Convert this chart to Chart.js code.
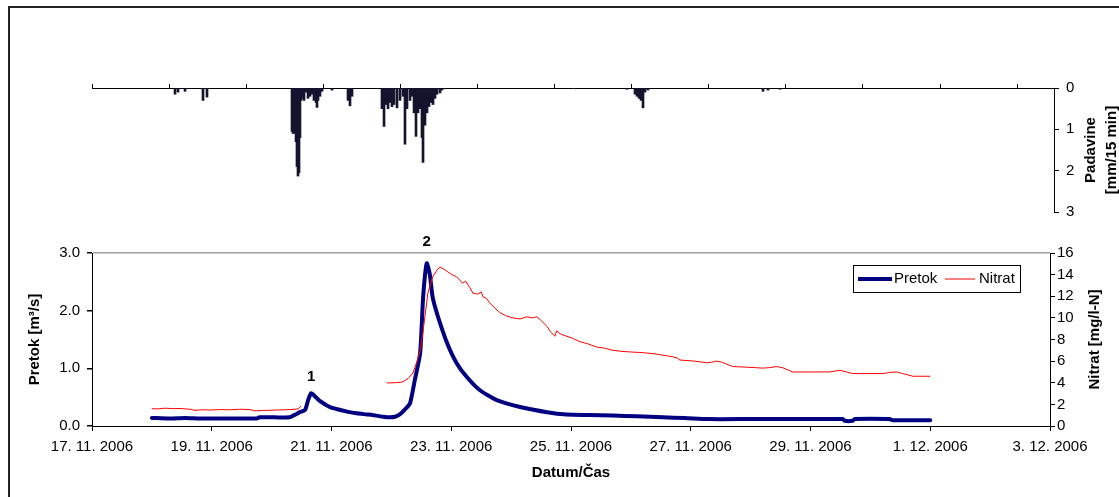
<!DOCTYPE html>
<html><head><meta charset="utf-8">
<script src="https://cdn.jsdelivr.net/npm/chart.js@4.4.0/dist/chart.umd.min.js"></script>
<style>
html,body{margin:0;padding:0;background:#fff;}
#wrap{position:relative;width:1119px;height:497px;overflow:hidden;background:#fff;}
#frame{position:absolute;left:8px;top:6px;width:1200px;height:600px;border-top:2px solid #222;border-left:2px solid #222;}
canvas{position:absolute;left:0;top:0;}
</style></head><body>
<div id="wrap"><div id="frame"></div>
<canvas id="rain" width="1119" height="497"></canvas>
<canvas id="main" width="1119" height="497"></canvas>
</div>
<script>
// ---- data (time in days since 17. 11. 2006 00:00) ----
const dateLabels = ['17. 11. 2006','19. 11. 2006','21. 11. 2006','23. 11. 2006','25. 11. 2006','27. 11. 2006','29. 11. 2006','1. 12. 2006','3. 12. 2006'];

const flowT = [1.00,1.30,1.55,1.80,2.05,2.30,2.55,2.75,2.80,3.05,3.30,3.40,3.47,3.56,3.61,3.66,3.71,3.81,3.97,4.10,4.26,4.42,4.59,4.75,4.86,4.98,5.06,5.14,5.22,5.31,5.39,5.48,5.53,5.59,5.64,5.69,5.78,5.93,6.09,6.26,6.48,6.76,7.15,7.60,7.93,8.30,8.70,9.10,9.53,9.90,10.28,11.00,11.80,12.54,12.57,12.70,12.74,13.32,13.37,14.00];
const flowQ = [0.14,0.13,0.14,0.13,0.13,0.13,0.13,0.13,0.15,0.15,0.15,0.20,0.24,0.28,0.45,0.57,0.53,0.43,0.33,0.29,0.25,0.22,0.20,0.18,0.16,0.15,0.16,0.20,0.28,0.39,0.79,1.26,2.23,2.82,2.64,2.23,1.89,1.44,1.09,0.85,0.62,0.45,0.33,0.24,0.20,0.19,0.18,0.17,0.15,0.14,0.12,0.12,0.12,0.12,0.09,0.09,0.12,0.12,0.10,0.10];

const nitT = [1.00,1.10,1.22,1.35,1.47,1.64,1.72,1.85,1.97,2.15,2.30,2.47,2.64,2.72,2.85,2.97,3.10,3.22,3.39,3.45,3.49,3.50,
  4.92,5.06,5.19,5.28,5.36,5.43,5.48,5.53,5.56,5.61,5.69,5.76,5.81,5.88,5.93,6.01,6.09,6.14,6.19,6.24,6.31,6.36,6.44,6.50,6.53,6.59,6.64,6.73,6.81,6.91,7.03,7.15,7.26,7.35,7.43,7.51,7.60,7.66,7.73,7.76,7.83,7.93,8.03,8.15,8.28,8.43,8.56,8.70,8.85,8.98,9.15,9.37,9.48,9.60,9.70,9.77,9.82,10.07,10.27,10.35,10.43,10.52,10.70,10.90,11.07,11.20,11.32,11.43,11.53,11.70,11.99,12.32,12.49,12.60,12.70,12.99,13.21,13.32,13.44,13.54,13.71,14.00];
const nitN = [1.60,1.58,1.65,1.60,1.62,1.55,1.45,1.50,1.48,1.52,1.50,1.55,1.52,1.40,1.44,1.45,1.48,1.50,1.55,1.60,1.85,null,
  3.98,4.00,4.07,4.40,4.90,6.00,7.00,8.80,10.10,12.30,13.80,14.40,14.70,14.50,14.30,14.00,13.80,13.50,13.20,13.40,12.80,12.30,12.20,12.40,11.95,11.80,11.40,10.90,10.50,10.20,10.00,9.90,10.10,10.00,10.10,9.70,9.20,8.70,8.30,8.80,8.50,8.30,8.10,7.80,7.60,7.30,7.20,7.00,6.90,6.85,6.80,6.70,6.60,6.50,6.40,6.30,6.10,6.00,5.85,5.90,6.00,5.90,5.50,5.45,5.40,5.35,5.40,5.50,5.40,5.00,5.00,5.00,5.15,5.00,4.85,4.85,4.85,4.95,5.00,4.85,4.60,4.60];

const rainT = [1.386,1.436,1.553,1.853,1.920,
  3.339,3.356,3.372,3.389,3.406,3.422,3.439,3.456,3.472,3.489,3.506,3.539,3.573,3.606,3.639,3.673,3.706,3.740,3.756,3.773,3.806,3.840,4.007,
  4.274,4.307,4.341,
  4.841,4.875,4.908,4.942,4.975,5.008,5.042,5.092,5.142,5.192,5.225,5.259,5.309,5.342,5.376,5.409,5.442,5.476,5.509,5.526,5.559,5.593,5.626,5.659,5.693,5.726,5.760,5.810,5.843,
  8.932,9.065,9.098,9.132,9.165,9.199,9.232,9.282,
  11.202,11.285,11.486];
const rainP = [0.15,0.10,0.08,0.30,0.22,
  1.05,1.10,1.08,1.10,1.30,1.90,2.13,2.05,1.20,0.30,0.25,0.30,0.10,0.25,0.20,0.15,0.30,0.35,0.47,0.30,0.20,0.08,0.05,
  0.30,0.43,0.20,
  0.50,0.93,0.40,0.50,0.35,0.45,0.40,0.48,0.30,0.20,1.36,0.50,0.30,0.20,0.60,1.17,0.60,0.50,1.20,1.80,0.90,0.60,0.45,0.35,0.40,0.25,0.15,0.12,0.05,
  0.03,0.15,0.20,0.25,0.30,0.48,0.10,0.05,
  0.08,0.05,0.03];

const peakLabelText = ['1','2'];
const peakLabelT = [3.66,5.59];
const peakLabelQ = [0.85,3.20];

// ---- rendering ----
const FONT = '"Liberation Sans", Arial, sans-serif';
Chart.defaults.font.family = FONT;
Chart.defaults.font.size = 15;
Chart.defaults.color = '#000';
Chart.defaults.animation = false;

const rainAxisDays = 16.06;
const rainTickStep = 1.287;

const rainTitlePlugin = {
  id: 'rainTitle',
  afterDraw(chart) {
    const ctx = chart.ctx, y = chart.scales.y;
    const cy = (y.top + y.bottom) / 2;
    ctx.save();
    ctx.font = 'bold 15px ' + FONT;
    ctx.fillStyle = '#000';
    ctx.textAlign = 'center';
    ctx.textBaseline = 'middle';
    ctx.translate(y.left + 37, cy);
    ctx.rotate(-Math.PI / 2);
    ctx.fillText('Padavine', 0, 0);
    ctx.fillText('[mm/15 min]', 0, 21);
    ctx.restore();
  }
};

new Chart(document.getElementById('rain'), {
  type: 'bar',
  data: {
    datasets: [{
      data: rainT.map((t, i) => ({x: t, y: rainP[i]})),
      backgroundColor: '#14142e',
      borderWidth: 0,
      barThickness: 2
    }]
  },
  options: {
    responsive: false,
    layout: {padding: {left: 92, right: 0, top: 0, bottom: 285}},
    plugins: {legend: {display: false}, tooltip: {enabled: false}},
    scales: {
      x: {
        type: 'linear', position: 'top', min: 0, max: rainAxisDays, offset: false,
        afterBuildTicks(s) { const t = []; for (let k = 0; k * rainTickStep <= rainAxisDays + 1e-6; k++) t.push({value: k * rainTickStep}); s.ticks = t; },
        afterFit(s) { s.height = 88; },
        ticks: {display: false},
        grid: {drawOnChartArea: false, drawTicks: true, tickLength: 4, color: '#000', offset: false},
        border: {display: true, color: '#000', width: 1}
      },
      y: {
        position: 'right', reverse: true, min: 0, max: 3,
        afterFit(s) { s.width = 65; },
        ticks: {stepSize: 1, padding: 7},
        grid: {drawOnChartArea: false, tickLength: 5, color: '#000'},
        border: {display: true, color: '#000', width: 1}
      }
    }
  },
  plugins: [rainTitlePlugin]
});

const mainTextPlugin = {
  id: 'mainText',
  afterDraw(chart) {
    const ctx = chart.ctx, s = chart.scales, ca = chart.chartArea;
    const cy = (ca.top + ca.bottom) / 2;
    ctx.save();
    ctx.fillStyle = '#000';
    ctx.font = 'bold 15px ' + FONT;
    ctx.textAlign = 'center';
    ctx.textBaseline = 'middle';
    // left title
    ctx.save(); ctx.translate(35, cy); ctx.rotate(-Math.PI / 2); ctx.fillText('Pretok [m³/s]', 0, 0); ctx.restore();
    // right title
    ctx.save(); ctx.translate(s.yN.left + 45, cy); ctx.rotate(-Math.PI / 2); ctx.fillText('Nitrat [mg/l-N]', 0, 0); ctx.restore();
    // x title
    ctx.fillText('Datum/Čas', (ca.left + ca.right) / 2, 473);
    // peak labels
    peakLabelText.forEach((t, i) => {
      ctx.fillText(t, s.x.getPixelForValue(peakLabelT[i]), s.yQ.getPixelForValue(peakLabelQ[i]));
    });
    // legend
    const bw = 167, bh = 27, bx = ca.right - 30 - bw, by = ca.top + 12;
    ctx.fillStyle = '#fff';
    ctx.fillRect(bx, by, bw, bh);
    ctx.strokeStyle = '#000'; ctx.lineWidth = 1;
    ctx.strokeRect(bx + 0.5, by + 0.5, bw, bh);
    const my = by + bh / 2 + 0.5;
    ctx.strokeStyle = '#000080'; ctx.lineWidth = 4;
    ctx.beginPath(); ctx.moveTo(bx + 5, my); ctx.lineTo(bx + 39, my); ctx.stroke();
    ctx.strokeStyle = '#ff0000'; ctx.lineWidth = 1;
    ctx.beginPath(); ctx.moveTo(bx + 92, my); ctx.lineTo(bx + 122, my); ctx.stroke();
    ctx.fillStyle = '#000';
    ctx.font = '15px ' + FONT;
    ctx.textAlign = 'left';
    ctx.fillText('Pretok', bx + 41, my);
    ctx.fillText('Nitrat', bx + 126, my);
    ctx.restore();
  }
};

new Chart(document.getElementById('main'), {
  type: 'line',
  data: {
    datasets: [
      {
        label: 'Nitrat', yAxisID: 'yN',
        data: nitT.map((t, i) => ({x: t, y: nitN[i]})),
        borderColor: '#ff0000', borderWidth: 1, pointRadius: 0, tension: 0, spanGaps: false, fill: false
      },
      {
        label: 'Pretok', yAxisID: 'yQ',
        data: flowT.map((t, i) => ({x: t, y: flowQ[i]})),
        borderColor: '#000080', borderWidth: 4, pointRadius: 0, tension: 0.2, fill: false,
        borderCapStyle: 'round', borderJoinStyle: 'round'
      }
    ]
  },
  options: {
    responsive: false,
    layout: {padding: {left: 0, right: 0, top: 253, bottom: 0}},
    plugins: {legend: {display: false}, tooltip: {enabled: false}},
    scales: {
      x: {
        type: 'linear', min: 0, max: 16,
        afterFit(s) { s.height = 71; },
        ticks: {stepSize: 2, padding: 7, maxRotation: 0, autoSkip: false, callback: (v) => dateLabels[Math.round(v / 2)]},
        grid: {drawOnChartArea: false, tickLength: 5, color: '#000'},
        border: {display: true, color: '#000', width: 1}
      },
      yQ: {
        position: 'left', min: 0, max: 3,
        afterFit(s) { s.width = 92; },
        ticks: {stepSize: 1, padding: 7, callback: (v) => Number(v).toFixed(1)},
        grid: {drawOnChartArea: true, tickLength: 5, color: (c) => c.tick && c.tick.value === 3 ? '#a0a0a0' : 'rgba(0,0,0,0)', tickColor: '#000', lineWidth: 1.5},
        border: {display: true, color: '#000', width: 1}
      },
      yN: {
        position: 'right', min: 0, max: 16,
        afterFit(s) { s.width = 69; },
        ticks: {stepSize: 2, padding: 2},
        grid: {drawOnChartArea: false, tickLength: 5, color: '#000'},
        border: {display: true, color: '#000', width: 1}
      }
    }
  },
  plugins: [mainTextPlugin]
});
</script>
</body></html>
